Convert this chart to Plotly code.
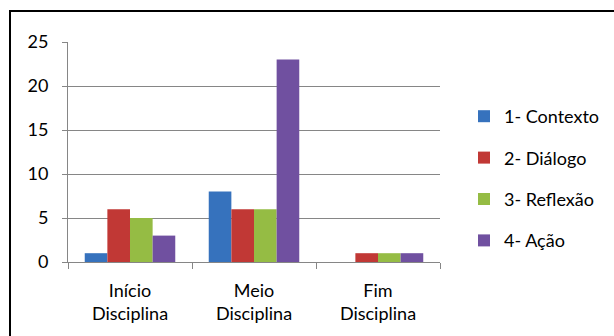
import plotly.graph_objects as go

categories = ["Início<br>Disciplina", "Meio<br>Disciplina", "Fim<br>Disciplina"]
series_names = ["1- Contexto", "2- Diálogo", "3- Reflexão", "4- Ação"]
contexto = [1, 8, 0]
dialogo = [6, 6, 1]
reflexao = [5, 6, 1]
acao = [3, 23, 1]
colors = ["#3672BD", "#C13835", "#95BC44", "#7050A0"]
y_ticks = [0, 5, 10, 15, 20, 25]

FONT = "Lato"
fig = go.Figure()
for i, (name, vals) in enumerate(zip(series_names, [contexto, dialogo, reflexao, acao])):
    fig.add_trace(go.Bar(x=categories, y=vals, name=name, marker_color=colors[i],
                         marker_line_width=0, legendgroup=name))

fig.update_layout(
    width=614, height=336,
    margin=dict(l=68, r=174, t=42, b=74),
    paper_bgcolor="white", plot_bgcolor="white",
    barmode="group", bargap=0.27, bargroupgap=0,
    font=dict(family=FONT, size=18, color="#000000"),
    showlegend=True,
    legend=dict(xref="container", yref="container", x=464 / 614, xanchor="left",
                y=1 - 98 / 336, yanchor="top",
                font=dict(size=18, family=FONT), tracegroupgap=15,
                itemwidth=30, bgcolor="rgba(0,0,0,0)"),
    xaxis=dict(showline=True, linecolor="#868686", linewidth=1,
               ticks="outside", tickson="boundaries", ticklen=6, tickcolor="#868686",
               showgrid=False, ticklabelstandoff=12, automargin=False),
    yaxis=dict(range=[0, 25], tickvals=y_ticks, showline=True, linecolor="#868686",
               linewidth=1, ticks="outside", ticklen=5, tickcolor="#868686",
               showgrid=True, gridcolor="#868686", gridwidth=1, zeroline=False,
               ticklabelstandoff=10, automargin=False),
)

fig.add_shape(type="rect", xref="paper", yref="paper",
              x0=(10 - 68) / 372, x1=(640 - 68) / 372,
              y0=(262 - 360) / 220, y1=(262 - 11) / 220,
              line=dict(color="black", width=2), layer="below")

fig.write_html("out.html")
